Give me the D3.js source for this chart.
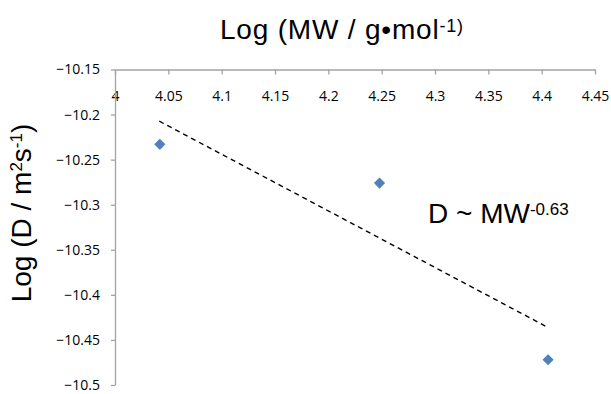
<!DOCTYPE html>
<html>
<head>
  <meta charset="utf-8">
  <title>Log D vs Log MW</title>
  <script src="https://cdn.jsdelivr.net/npm/d3@7/dist/d3.min.js"></script>
  <style>
    body { margin: 0; background: #fff; }
    .tick text { font-family: "Open Sans", sans-serif; font-size: 14px; fill: #000; }
    .title { font-family: "Liberation Sans", Arial, sans-serif; fill: #000; }
  </style>
</head>
<body>
  <svg id="chart"></svg>
  <script>
    var logMW = [4.042, 4.248, 4.406];
    var logD = [-10.233, -10.276, -10.472];

    // dashed power-law fit, end points
    var fitX = [4.0415, 4.4047];
    var fitY = [-10.2073, -10.4354];

    var xTicks = [4, 4.05, 4.1, 4.15, 4.2, 4.25, 4.3, 4.35, 4.4, 4.45];
    var yTicks = [-10.15, -10.2, -10.25, -10.3, -10.35, -10.4, -10.45, -10.5];

    var width = 611, height = 394;

    var svg = d3.select("#chart")
        .attr("width", width)
        .attr("height", height);

    var x = d3.scaleLinear().domain([4, 4.45]).range([115, 595]);
    var y = d3.scaleLinear().domain([-10.15, -10.5]).range([69.5, 385]);

    var fmt = d3.format("~g");

    // x axis sits on top (y crosses at -10.15)
    svg.append("g")
        .attr("transform", "translate(0," + y(-10.15) + ")")
        .call(d3.axisBottom(x).tickValues(xTicks).tickFormat(fmt)
              .tickSize(5).tickPadding(17).tickSizeOuter(0));

    svg.append("g")
        .attr("transform", "translate(" + x(4) + ",0)")
        .call(d3.axisLeft(y).tickValues(yTicks).tickFormat(fmt)
              .tickSize(4).tickPadding(11).tickSizeOuter(0));

    svg.selectAll(".domain, .tick line")
        .attr("stroke", "#a3a3a3")
        .attr("stroke-width", 1.3);

    // trend line
    var line = d3.line()
        .x(function(d) { return x(d[0]); })
        .y(function(d) { return y(d[1]); });

    svg.append("path")
        .datum(d3.zip(fitX, fitY))
        .attr("d", line)
        .attr("fill", "none")
        .attr("stroke", "#000")
        .attr("stroke-width", 1.4)
        .attr("stroke-dasharray", "5,4");

    // diamond markers
    var diamond = d3.symbol().type(d3.symbolSquare).size(62);
    svg.selectAll(".pt")
        .data(d3.zip(logMW, logD))
        .join("path")
        .attr("class", "pt")
        .attr("d", diamond)
        .attr("transform", function(d) {
            return "translate(" + x(d[0]) + "," + y(d[1]) + ") rotate(45)";
        })
        .attr("fill", "#4f81bd");

    // titles
    var xt = svg.append("text")
        .attr("class", "title")
        .attr("x", 220)
        .attr("y", 39)
        .style("font-size", "28px")
        .style("letter-spacing", "0.8px");
    xt.append("tspan").text("Log (MW / g\u2022mol");
    xt.append("tspan").attr("dy", -7).style("font-size", "18px").text("-1)");

    var yt = svg.append("text")
        .attr("class", "title")
        .attr("transform", "translate(31," + 213 + ") rotate(-90)")
        .attr("text-anchor", "middle")
        .style("font-size", "28px");
    yt.append("tspan").text("Log (D / m");
    yt.append("tspan").attr("dy", -9).style("font-size", "17px").text("2");
    yt.append("tspan").attr("dy", 9).text("s");
    yt.append("tspan").attr("dy", -9).style("font-size", "17px").text("-1");
    yt.append("tspan").attr("dy", 9).text(")");

    var eq = svg.append("text")
        .attr("class", "title")
        .attr("x", 428)
        .attr("y", 223)
        .style("font-size", "28px");
    eq.append("tspan").text("D ~ MW");
    eq.append("tspan").attr("dy", -8).style("font-size", "17px").text("-0.63");
  </script>
</body>
</html>
